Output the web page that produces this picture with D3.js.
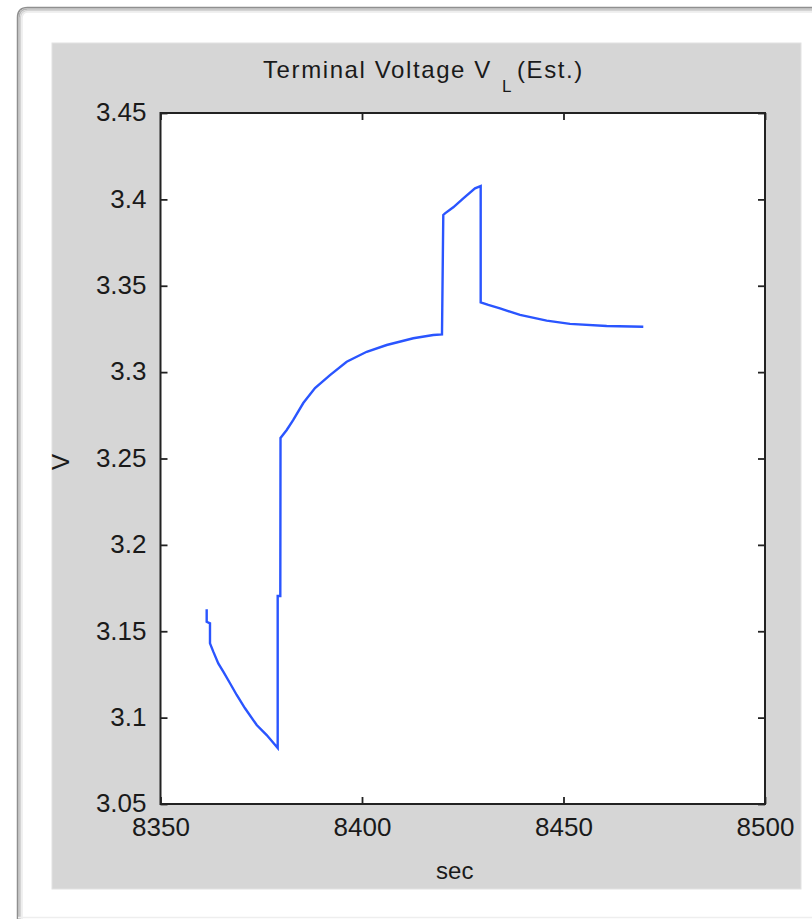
<!DOCTYPE html>
<html>
<head>
<meta charset="utf-8">
<script src="https://cdn.jsdelivr.net/npm/d3@7"></script>
<style>
  html, body { margin: 0; padding: 0; background: #ffffff; overflow: hidden; }
  svg { display: block; }
  text { font-family: "Liberation Sans", Arial, Helvetica, sans-serif; fill: #1a1a1a; }
</style>
</head>
<body>
<svg id="chart" width="812" height="919"></svg>
<script>
// Estimated terminal voltage trace (time in seconds, voltage in volts)
const timeSec = [
  8361.46, 8361.46, 8362.28, 8362.28, 8363.10, 8364.34, 8365.58, 8367.25, 8368.91,
  8370.97, 8373.87, 8376.35, 8379.08, 8379.08, 8379.73, 8379.78, 8381.32, 8382.95,
  8385.43, 8388.34, 8392.06, 8396.20, 8401.17, 8406.13, 8412.73, 8417.69, 8419.85,
  8420.17, 8420.60, 8422.65, 8425.14, 8428.04, 8429.45, 8429.45, 8431.34, 8434.24,
  8439.21, 8445.83, 8451.61, 8460.72, 8469.80
];
const voltage = [
  3.1627, 3.1555, 3.1546, 3.1430, 3.1382, 3.1314, 3.1266, 3.1199, 3.1131,
  3.1054, 3.0957, 3.0899, 3.0824, 3.1704, 3.1704, 3.2619, 3.2665, 3.2723,
  3.2821, 3.2908, 3.2983, 3.3060, 3.3118, 3.3157, 3.3196, 3.3215, 3.3218,
  3.3910, 3.3919, 3.3954, 3.4006, 3.4064, 3.4077, 3.3404, 3.3389, 3.3369,
  3.3331, 3.3298, 3.3279, 3.3267, 3.3263
];
const xTicks = [8350, 8400, 8450, 8500];
const yTicks = [3.05, 3.1, 3.15, 3.2, 3.25, 3.3, 3.35, 3.4, 3.45];
const xDomain = [8350, 8500];
const yDomain = [3.05, 3.45];

const svg = d3.select("#chart");

// Window frame: shaded top and left edges with a rounded corner
const frame = [
  { inset: 0, color: "#8f8f8f" },
  { inset: 1.5, color: "#b4b4b4" },
  { inset: 3, color: "#d4d4d4" },
  { inset: 4.5, color: "#ececec" }
];
frame.forEach(f => {
  const x0 = 17.5 + f.inset, y0 = 7.5 + f.inset, r = 10 - f.inset * 0.8;
  svg.append("path")
    .attr("d", `M${x0},919 L${x0},${y0 + r} Q${x0},${y0} ${x0 + r},${y0} L812,${y0}`)
    .attr("fill", "none").attr("stroke", f.color).attr("stroke-width", 1.5);
});
svg.append("line").attr("x1", 18).attr("x2", 812).attr("y1", 917.5).attr("y2", 917.5)
  .attr("stroke", "#eeeeee").attr("stroke-width", 1.5);

// Figure panel
svg.append("rect")
  .attr("x", 52).attr("y", 43).attr("width", 749).attr("height", 846)
  .attr("fill", "#d6d6d6").attr("stroke", "#e2e2e2").attr("stroke-width", 1);

const plot = { left: 160.5, right: 765, top: 113, bottom: 804 };

const x = d3.scaleLinear().domain(xDomain).range([plot.left, plot.right]);
const y = d3.scaleLinear().domain(yDomain).range([plot.bottom, plot.top]);

// Axes background
svg.append("rect")
  .attr("x", plot.left).attr("y", plot.top)
  .attr("width", plot.right - plot.left).attr("height", plot.bottom - plot.top)
  .attr("fill", "#ffffff");

const tickLen = 7;
const tickFont = 26;

// Bottom axis (labels) and top axis (ticks only), ticks pointing inward
const xBottom = svg.append("g").attr("transform", `translate(0,${plot.bottom})`)
  .call(d3.axisBottom(x).tickValues(xTicks).tickSizeInner(-tickLen).tickSizeOuter(0)
    .tickPadding(tickLen + 9).tickFormat(d3.format("d")));
const xTop = svg.append("g").attr("transform", `translate(0,${plot.top})`)
  .call(d3.axisTop(x).tickValues(xTicks).tickSizeInner(-tickLen).tickSizeOuter(0).tickFormat(""));

// Left axis (labels) and right axis (ticks only)
const yLeft = svg.append("g").attr("transform", `translate(${plot.left},0)`)
  .call(d3.axisLeft(y).tickValues(yTicks).tickSizeInner(-tickLen).tickSizeOuter(0)
    .tickPadding(tickLen + 7).tickFormat(d => d3.format("")(+d.toFixed(2))));
const yRight = svg.append("g").attr("transform", `translate(${plot.right},0)`)
  .call(d3.axisRight(y).tickValues(yTicks).tickSizeInner(-tickLen).tickSizeOuter(0).tickFormat(""));

[xBottom, xTop, yLeft, yRight].forEach(g => {
  g.select(".domain").remove();
  g.selectAll(".tick line").attr("stroke", "#222222").attr("stroke-width", 1.8);
  g.selectAll(".tick text")
    .attr("font-size", tickFont)
    .attr("font-family", "'Liberation Sans', Arial, sans-serif")
    .attr("fill", "#1a1a1a");
});
xBottom.selectAll(".tick text").attr("dy", "0.62em");
yLeft.selectAll(".tick text").attr("dy", "0.3em");

// Voltage trace
const pts = timeSec.map((t, i) => [t, voltage[i]]);
const line = d3.line().x(d => x(d[0])).y(d => y(d[1]));
svg.append("path")
  .datum(pts)
  .attr("d", line)
  .attr("fill", "none")
  .attr("stroke", "#2a55ff")
  .attr("stroke-width", 2.4)
  .attr("stroke-linejoin", "miter");

// Axes box
svg.append("rect")
  .attr("x", plot.left).attr("y", plot.top)
  .attr("width", plot.right - plot.left).attr("height", plot.bottom - plot.top)
  .attr("fill", "none").attr("stroke", "#222222").attr("stroke-width", 2);

// Title with subscript
const title = svg.append("text")
  .attr("x", 263).attr("y", 78)
  .attr("font-size", 24)
  .attr("letter-spacing", 1.6);
title.append("tspan").text("Terminal Voltage V");
title.append("tspan").attr("dx", 10).attr("dy", 14).attr("font-size", 17).text("L");
title.append("tspan").attr("dx", 4).attr("dy", -14).text("(Est.)");

// Axis labels
svg.append("text")
  .attr("x", (plot.left + plot.right) / 2 - 8).attr("y", 879)
  .attr("text-anchor", "middle").attr("font-size", 24)
  .text("sec");

svg.append("text")
  .attr("transform", "translate(69,462) rotate(-90)")
  .attr("text-anchor", "middle").attr("font-size", 24)
  .text("V");
</script>
</body>
</html>
